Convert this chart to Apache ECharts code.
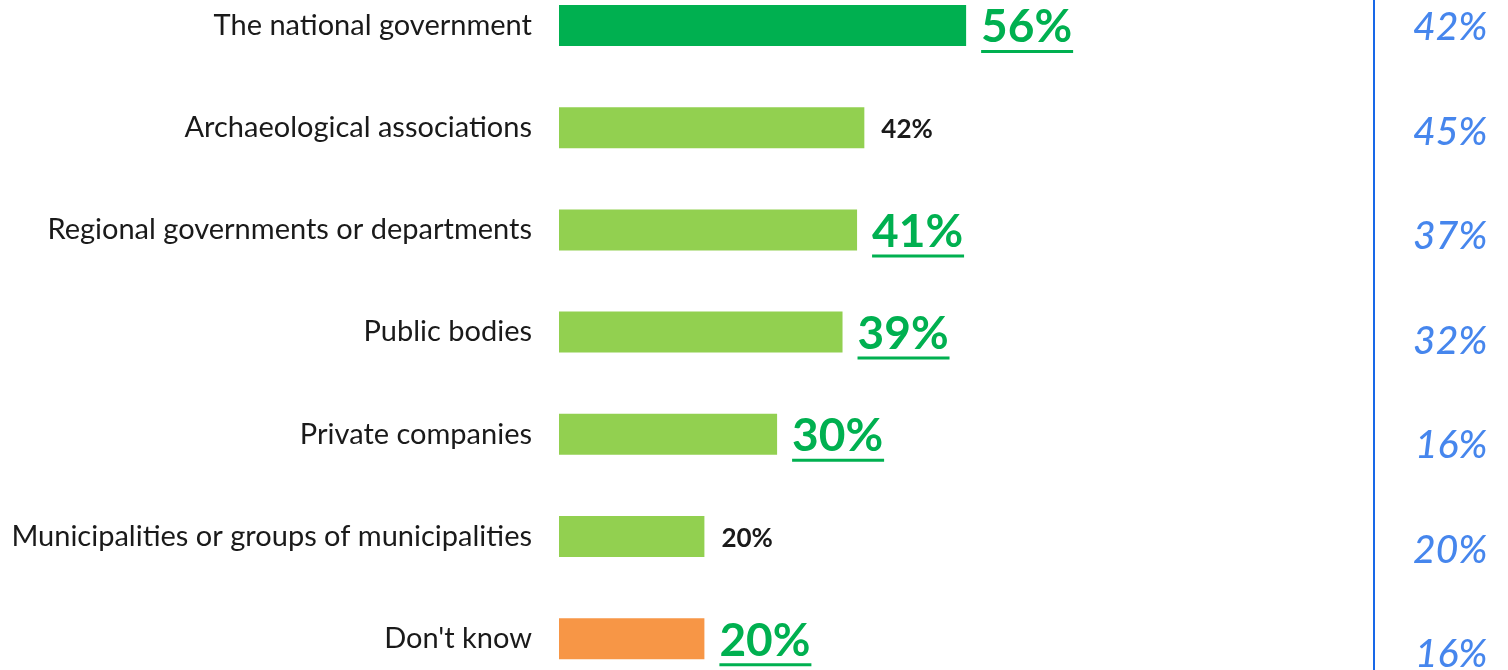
<!DOCTYPE html>
<html><head><meta charset="utf-8">
<script src="https://cdn.jsdelivr.net/npm/echarts@6/dist/echarts.min.js"></script>
<style>html,body{margin:0;padding:0;background:#fff}#c{width:1508px;height:670px}</style>
</head><body><div id="c"></div>
<script>
const categories = [
  'The national government',
  'Archaeological associations',
  'Regional governments or departments',
  'Public bodies',
  'Private companies',
  'Municipalities or groups of municipalities',
  "Don't know"
];
const values = [56, 42, 41, 39, 30, 20, 20];
const previous = [42, 45, 37, 32, 16, 20, 16];
const significant = [true, false, true, true, true, false, true];

const FONT = 'Lato, "Open Sans", sans-serif';
const GREEN_DARK = '#00B050';
const GREEN_LIGHT = '#92D050';
const ORANGE = '#F79646';
const BLUE = '#1868E8';

function barColor(i) {
  if (i === 0) return GREEN_DARK;
  if (i === categories.length - 1) return ORANGE;
  return GREEN_LIGHT;
}

const bigLabel = {
  show: true, position: 'right', distance: 15, offset: [0, 4],
  formatter: p => '{a|' + p.value + '%}\n{u|}',
  rich: {
    a: { fontFamily: FONT, fontSize: 46, fontWeight: 'bold', color: GREEN_DARK, lineHeight: 44 },
    u: { height: 3, width: 92, backgroundColor: GREEN_DARK, lineHeight: 4 }
  }
};
const smallLabel = {
  show: true, position: 'right', distance: 17, offset: [0, 2],
  formatter: p => p.value + '%',
  fontFamily: FONT, fontSize: 26, fontWeight: 'bold', color: '#1a1a1a'
};

const chart = echarts.init(document.getElementById('c'), null, { renderer: 'canvas' });
chart.setOption({
  animation: false,
  backgroundColor: '#fff',
  grid: [
    { left: 559, width: 727, top: -25.6, height: 715.4, outerBoundsMode: 'none' },
    { left: 1374, width: 114, top: -24.5, height: 731.5, outerBoundsMode: 'none' }
  ],
  xAxis: [
    { type: 'value', min: 0, max: 100, show: false, gridIndex: 0 },
    { type: 'value', min: 0, max: 100, show: false, gridIndex: 1 }
  ],
  yAxis: [
    {
      type: 'category', data: categories, inverse: true, gridIndex: 0,
      axisLine: { show: false }, axisTick: { show: false }, splitLine: { show: false },
      axisLabel: { fontFamily: FONT, fontSize: 29, color: '#1a1a1a', margin: 27 }
    },
    {
      type: 'category', data: categories, inverse: true, gridIndex: 1,
      axisLine: { show: true, lineStyle: { color: BLUE, width: 2 } },
      axisTick: { show: false }, axisLabel: { show: false }, splitLine: { show: false }
    }
  ],
  series: [
    {
      type: 'bar', xAxisIndex: 0, yAxisIndex: 0, barWidth: 41,
      data: values.map((v, i) => ({
        value: v,
        itemStyle: { color: barColor(i) },
        label: significant[i] ? bigLabel : smallLabel
      }))
    },
    {
      type: 'scatter', xAxisIndex: 1, yAxisIndex: 1, symbolSize: 1,
      itemStyle: { color: 'rgba(0,0,0,0)' },
      data: previous.map((p, i) => [100, i, p]),
      label: {
        show: true, position: 'left', distance: 0,
        formatter: p => p.value[2] + '%',
        fontFamily: FONT, fontSize: 39, fontStyle: 'italic', fontWeight: 500, color: BLUE
      }
    }
  ]
});
</script></body></html>
